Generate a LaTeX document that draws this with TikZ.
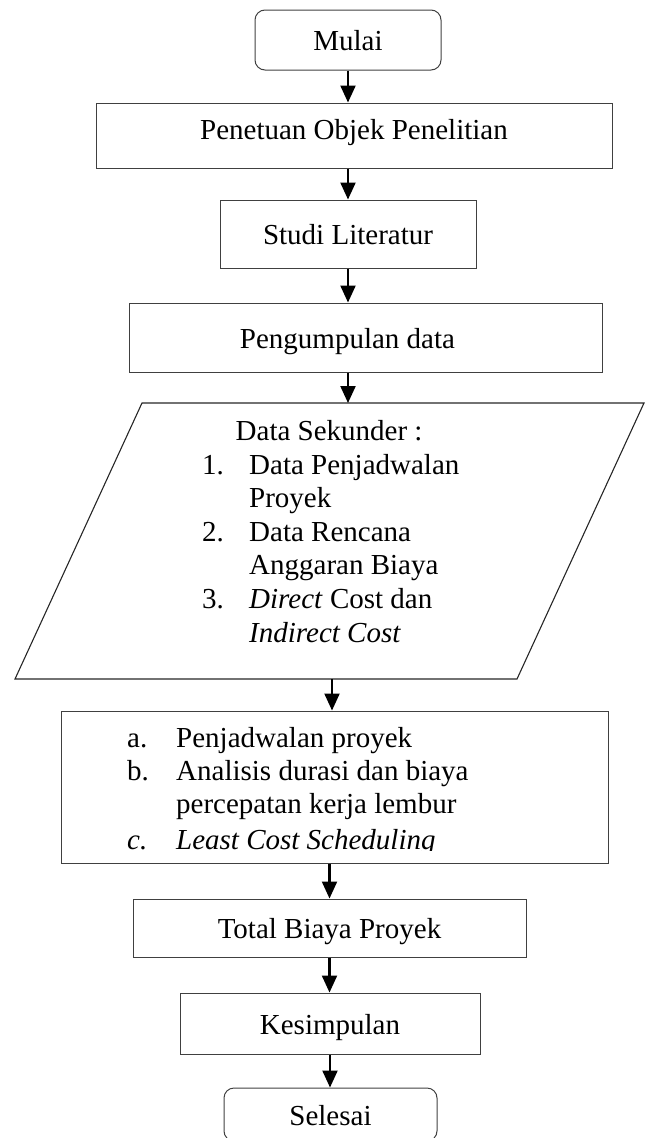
\documentclass[tikz,border=0pt]{standalone}
\usepackage{fontspec}
\setmainfont{Liberation Serif}
\usetikzlibrary{arrows.meta}
\begin{document}
\begin{tikzpicture}[x=1pt,y=-1pt,
  every node/.style={font=\fontsize{29}{33}\selectfont},
  bx/.style 2 args={draw=black!75, line width=1pt, inner sep=0pt,
    minimum width=#1, minimum height=#2, text height=21pt, text depth=0pt},
  arr/.style={line width=2.2pt, -{Triangle[length=17pt,width=15pt]}},
  para/.style={draw=black!85, line width=1.1pt, line join=miter},
  txt/.style={anchor=base west, inner sep=0pt}]
\clip (0,0) rectangle (649,1138);
\useasboundingbox (0,0) rectangle (649,1138);
% boxes
\node[bx={186}{60}, rounded corners=10pt] (mulai) at (348,40) {Mulai};
\node[bx={516}{65}, text depth=14pt] (pen) at (354,135.5) {Penetuan Objek Penelitian};
\node[bx={256}{68}] (studi) at (348,234) {Studi Literatur};
\node[bx={473}{69}] (peng) at (365.5,337.5) {\hspace*{-36pt}Pengumpulan data};
% parallelogram
\coordinate (dtl) at (142,403);
\coordinate (dtr) at (644,403);
\coordinate (dbr) at (517,679);
\coordinate (dbl) at (15,679);
\coordinate (dtop) at (348,403);
\coordinate (dbot) at (332,679);
\draw[para] (dtl) -- (dtr) -- (dbr) -- (dbl) -- cycle;
\node[txt] (ds) at (235.5,440) {Data Sekunder :};
\node[txt] (n1) at (202,474) {1.};
\node[txt] (d1) at (249,474) {Data Penjadwalan};
\node[txt] (d1b) at (249,507) {Proyek};
\node[txt] (n2) at (202,541) {2.};
\node[txt] (d2) at (249,541) {Data Rencana};
\node[txt] (d2b) at (249,574) {Anggaran Biaya};
\node[txt] (n3) at (202,608) {3.};
\node[txt] (d3) at (249,608) {\textit{Direct} Cost dan};
\node[txt] (d3b) at (249,642) {\textit{Indirect Cost}};
% process box
\node[bx={547}{152}] (abc) at (334.5,787) {};
\node[txt] (la) at (127,747) {a.};
\node[txt] (ta) at (176,747) {Penjadwalan proyek};
\node[txt] (lb) at (127,780) {b.};
\node[txt] (tb) at (176,780) {Analisis durasi dan biaya};
\node[txt] (tb2) at (176,813) {percepatan kerja lembur};
\begin{scope}
\clip (0,700) rectangle (649,850);
\node[txt] (lc) at (127,849) {\textit{c.}};
\node[txt] (tc) at (176,849) {\textit{Least Cost Scheduling}};
\end{scope}
\node[bx={393}{58}] (total) at (329.5,928) {Total Biaya Proyek};
\node[bx={300}{61}] (kes) at (330,1023.5) {Kesimpulan};
\node[bx={213}{53}, rounded corners=10pt] (sel) at (330.5,1114.5) {Selesai};
% connectors
\draw[arr] (mulai.south) -- (mulai.south |- pen.north);
\draw[arr] (studi.north |- pen.south) -- (studi.north);
\draw[arr] (studi.south) -- (studi.south |- peng.north);
\draw[arr] (dtop |- peng.south) -- (dtop);
\draw[arr] (dbot) -- (dbot |- abc.north);
\draw[arr] (total.north |- abc.south) -- (total.north);
\draw[arr] (total.south) -- (total.south |- kes.north);
\draw[arr] (kes.south) -- (kes.south |- sel.north);
\end{tikzpicture}
\end{document}
